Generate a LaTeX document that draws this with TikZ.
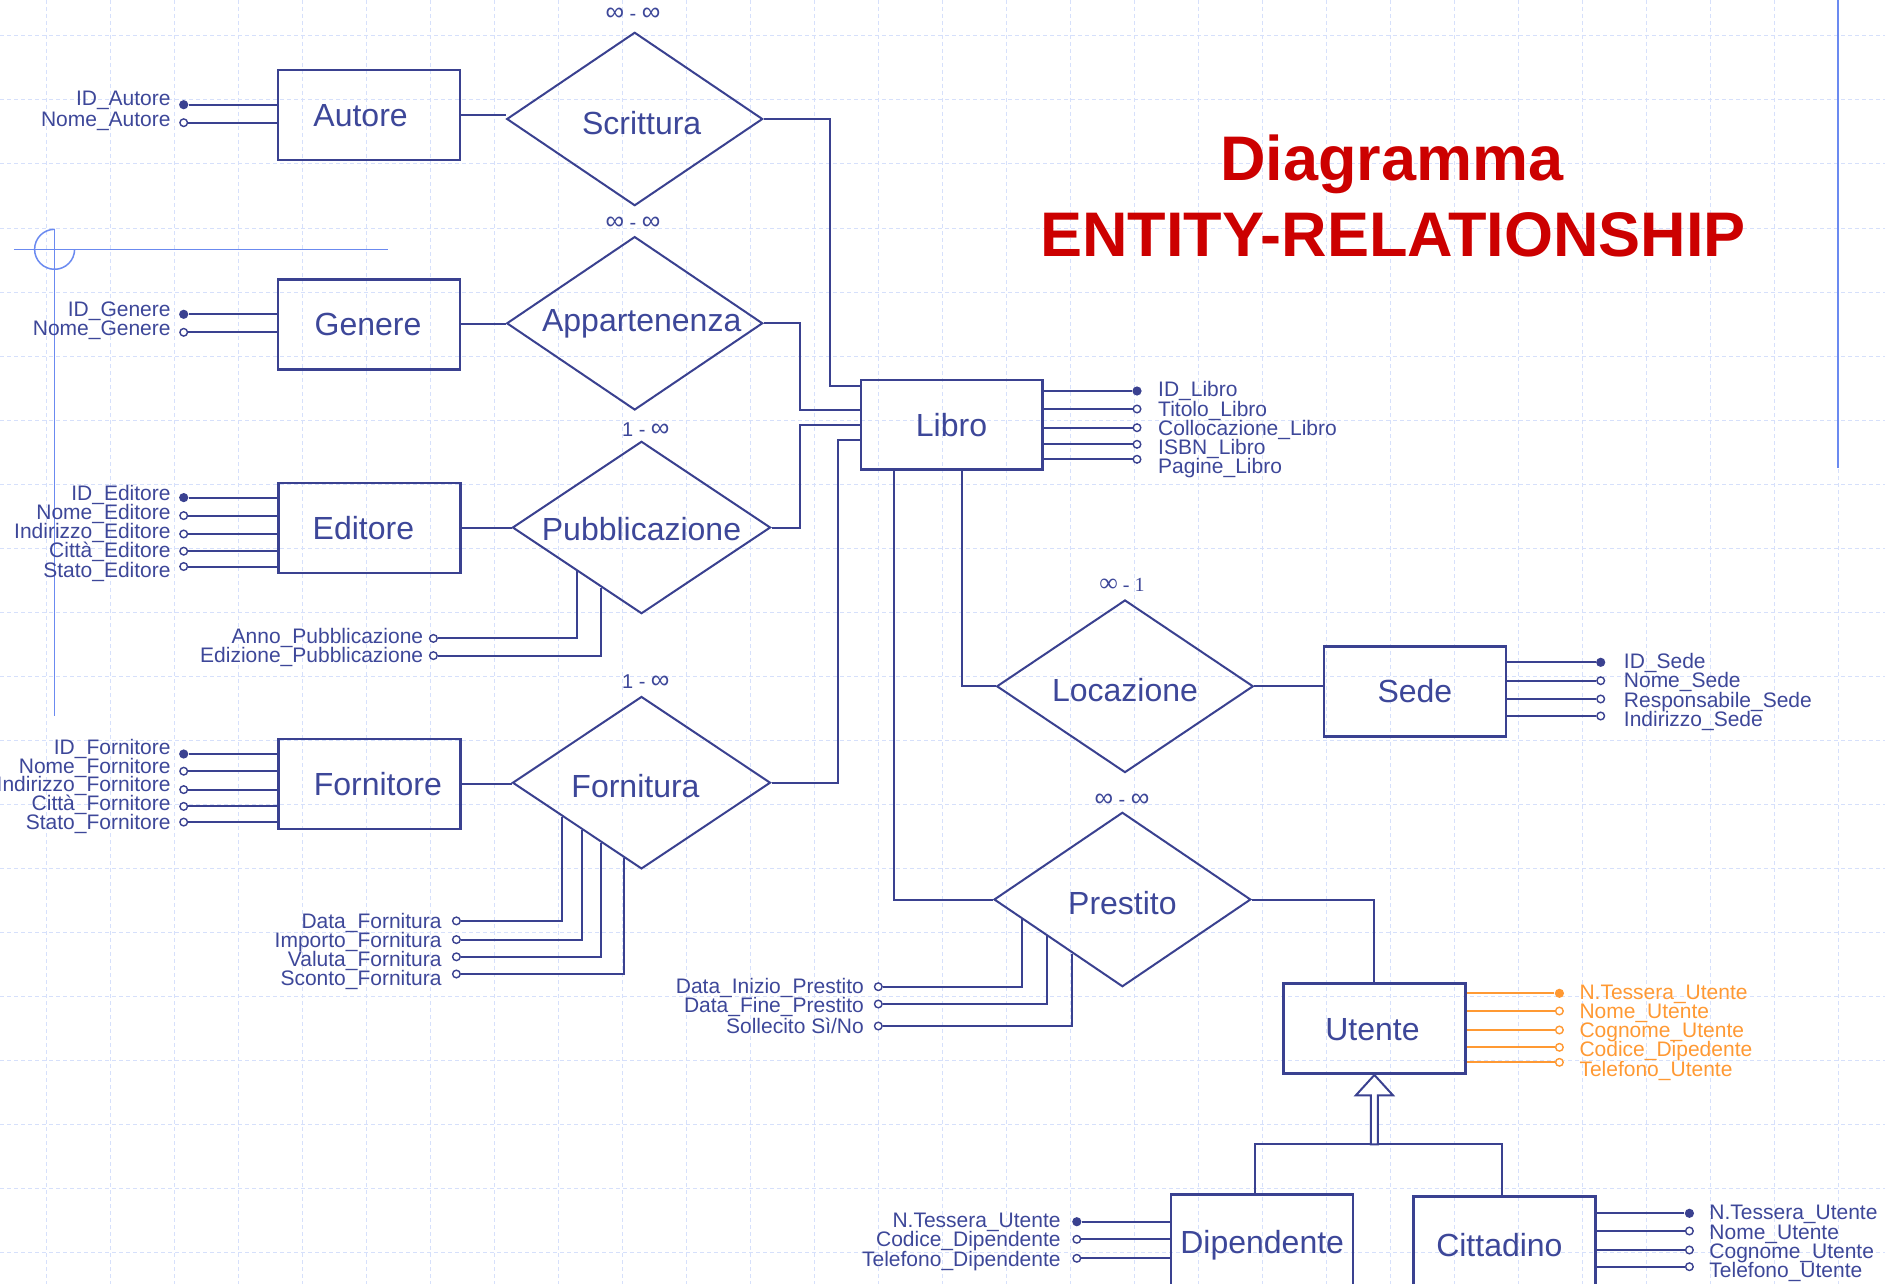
\documentclass[tikz,border=0pt]{standalone}
\usepackage{fontspec}
\setmainfont{Liberation Sans}
\newfontfamily\serifcard{Liberation Serif}
\usetikzlibrary{shapes.geometric,calc}
\definecolor{ernavy}{HTML}{3A4190}
\definecolor{ertext}{HTML}{3D4799}
\definecolor{erorange}{HTML}{FF9933}
\definecolor{erred}{HTML}{CC0000}
\definecolor{xblue}{HTML}{6B8AF0}
\definecolor{gridc}{HTML}{D6E0FB}
\newcommand{\infy}{{\fontsize{13pt}{10pt}\selectfont ∞}}
\begin{document}
\begin{tikzpicture}[x=0.5pt,y=-0.5pt,
  gridl/.style={draw=gridc, line width=0.5pt, dash pattern=on 2pt off 1.5pt},
  cross/.style={draw=xblue, line width=0.75pt},
  ent/.style={draw=ernavy, line width=1.25pt, minimum width=91pt, minimum height=45pt, inner sep=0pt, text=ertext, font=\fontsize{16pt}{16pt}\selectfont, text height=11.5pt, text depth=0pt},
  rel/.style={draw=ernavy, line width=1pt, diamond, shape aspect=1.5, inner sep=0pt, text=ertext, font=\fontsize{16pt}{16pt}\selectfont, text height=15pt, text depth=0pt},
  card/.style={text=ertext, font=\fontsize{10pt}{10pt}\selectfont, inner sep=0pt},
  attr/.style={text=ertext, font=\fontsize{10.5pt}{11pt}\selectfont, inner sep=0pt},
  oattr/.style={attr, text=erorange},
  kdot/.style={circle, fill=ernavy, minimum size=4.6pt, inner sep=0pt},
  odot/.style={circle, draw=ernavy, fill=white, line width=0.7pt, minimum size=3.8pt, inner sep=0pt},
  okdot/.style={kdot, fill=erorange},
  oodot/.style={odot, draw=erorange},
  conn/.style={draw=ernavy, line width=1pt},
  oconn/.style={draw=erorange, line width=1pt},
  ttl/.style={text=erred, font=\fontsize{31.5pt}{32pt}\selectfont\bfseries, inner sep=0pt}]

\useasboundingbox (0,0) rectangle (1885,1284);
\clip (0,0) rectangle (1885,1284);
\fill[white] (0,0) rectangle (1885,1284);

% grid
\foreach \i in {0,...,28} \draw[gridl] ({46+64*\i},0) -- ({46+64*\i},1284);
\foreach \j in {0,...,19} \draw[gridl] (0,{36+64*\j}) -- (1885,{36+64*\j});

% guide marks
\draw[cross] (13.8,249.3) -- (387.8,249.3);
\draw[cross] (54.6,229.3) -- (54.6,715.7);
\draw[cross] (54.6,229.3) arc[start angle=90, end angle=360, radius=10pt];
\draw[cross, line width=0.6pt] (1838,0) -- (1838,468);

% title
\node[ttl, anchor=base] (t1) at (1392,180) {Diagramma};
\node[ttl, anchor=base] (t2) at (1393,256) {ENTITY-RELATIONSHIP};

% entities
\node[ent] (autore) at (369,115) {Autore\hspace*{8.4pt}};
\node[ent] (genere) at (369,324.3) {Genere\hspace*{1pt}};
\node[ent] (editore) at (369.4,528.2) {Editore\hspace*{6pt}};
\node[ent] (fornitore) at (369.4,783.9) {\hspace*{8.4pt}Fornitore};
\node[ent, minimum width=90.75pt, minimum height=44.65pt] (libro) at (951.5,424.7) {Libro};
\node[ent] (sede) at (1414.9,691.3) {Sede};
\node[ent] (utente) at (1374.4,1028.7) {Utente\hspace*{2pt}};
\node[ent, minimum height=48pt] (dipendente) at (1262.2,1242.3) {Dipendente};
\node[ent, minimum height=48pt] (cittadino) at (1504.4,1244.7) {Cittadino\hspace*{5pt}};

% relationships
\node[rel, minimum width=128pt, minimum height=86.7pt] (scr) at (634.7,119) {\hspace*{7pt}Scrittura};
\node[rel, minimum width=128pt, minimum height=86.7pt, text height=8pt] (app) at (634.7,323.3) {\hspace*{7pt}Appartenenza};
\node[rel, minimum width=129pt, minimum height=86.2pt, text height=13pt] (pub) at (641.5,527.5) {Pubblicazione};
\node[rel, minimum width=129pt, minimum height=86.2pt] (forn) at (641.5,782.7) {Fornitura\hspace*{6pt}};
\node[rel, minimum width=128.3pt, minimum height=86.3pt] (loc) at (1125,686.3) {Locazione};
\node[rel, minimum width=128.4pt, minimum height=87.2pt] (pre) at (1122.4,899.5) {Prestito};

% cardinalities
\node[card] (cscr) at (633,14.7) {\infy{} - \infy};
\node[card] (capp) at (633,223.3) {\infy{} - \infy};
\node[card] (cpub) at (645.8,429.9) {1 - \infy};
\node[card] (cforn) at (645.8,682) {1 - \infy};
\node[card, font=\serifcard\fontsize{10pt}{10pt}\selectfont] (cloc) at (1122,584.5) {\infy{} - 1};
\node[card] (cpre) at (1122,800) {\infy{} - \infy};

% entity - relationship connectors
\draw[conn] (autore.east) -- (autore.east -| scr.west);
\draw[conn] (genere.east) -- (genere.east -| app.west);
\draw[conn] (editore.east) -- (editore.east -| pub.west);
\draw[conn] (fornitore.east) -- (fornitore.east -| forn.west);
\draw[conn] (scr.east) -| ($(libro.north west)+(-30,7.3)$) -- ($(libro.north west)+(0,7.3)$);
\draw[conn] (app.east) -| ($(libro.north west)+(-60,30.7)$) -- ($(libro.north west)+(0,30.7)$);
\draw[conn] (pub.east) -| ($(libro.north west)+(-60,46)$) -- ($(libro.north west)+(0,46)$);
\draw[conn] (forn.east) -| ($(libro.north west)+(-22,60.7)$) -- ($(libro.north west)+(0,60.7)$);
\draw[conn] ($(libro.south west)+(34.6,0)$) |- (pre.west);
\draw[conn] ($(libro.south west)+(102.6,0)$) |- (loc.west);
\draw[conn] (loc.east) -- (loc.east -| sede.west);
\draw[conn] (pre.east) -| (utente.north);

% generalisation
\coordinate (hub) at ($(utente.south)+(0,69.3)$);
\draw[conn] ($(dipendente.north)+(-7.5,0)$) |- (hub) -| ($(cittadino.north)+(-2.4,0)$);
\draw[conn, fill=white] (utente.south) -- ++(-18.5,20.3) -- ++(15,0) -- ++(0,49) -- ++(7,0) -- ++(0,-49) -- ++(15,0) -- cycle;

% attributes: left of entities
\foreach \nm/\st/\ly/\lb/\tx/\en in {
  aa1/kdot/104.7/106/ID\_Autore/autore, aa2/odot/122.7/126.3/Nome\_Autore/autore,
  ga1/kdot/314.3/316.3/ID\_Genere/genere, ga2/odot/332.3/335.5/Nome\_Genere/genere,
  ea1/kdot/497.6/500.3/ID\_Editore/editore, ea2/odot/515.6/519.3/Nome\_Editore/editore,
  ea3/odot/534/538.7/Indirizzo\_Editore/editore, ea4/odot/551.2/557.9/Città\_Editore/editore,
  ea5/odot/566.5/577.1/Stato\_Editore/editore,
  fa1/kdot/754/754/ID\_Fornitore/fornitore, fa2/odot/771.2/773.1/Nome\_Fornitore/fornitore,
  fa3/odot/789.6/791.1/Indirizzo\_Fornitore/fornitore, fa4/odot/806.4/810.3/Città\_Fornitore/fornitore,
  fa5/odot/822.1/829.6/Stato\_Fornitore/fornitore}{
  \node[\st] (\nm) at (183.7,\ly) {};
  \draw[conn] (\nm) -- (\nm -| \en.west);
  \node[attr, anchor=base east] (\nm-l) at (171,\lb) {\tx};
}

% attributes of Dipendente
\foreach \nm/\st/\ly/\lb/\tx in {
  da1/kdot/1221.7/1227/N.Tessera\_Utente, da2/odot/1239.3/1246.8/Codice\_Dipendente,
  da3/odot/1258.3/1266/Telefono\_Dipendente}{
  \node[\st] (\nm) at (1076.8,\ly) {};
  \draw[conn] (\nm) -- (\nm -| dipendente.west);
  \node[attr, anchor=base east] (\nm-l) at (1061,\lb) {\tx};
}

% attributes right of entities
\foreach \nm/\st/\ly/\lb/\tx in {
  la1/kdot/391/396.8/ID\_Libro, la2/odot/409/416/Titolo\_Libro,
  la3/odot/427.7/435.3/Collocazione\_Libro, la4/odot/444.3/454.5/ISBN\_Libro,
  la5/odot/459.3/473.8/Pagine\_Libro}{
  \node[\st] (\nm) at (1137,\ly) {};
  \draw[conn] (\nm) -- (\nm -| libro.east);
  \node[attr, anchor=base west] (\nm-l) at (1157.8,\lb) {\tx};
}
\foreach \nm/\st/\ly/\lb/\tx in {
  sa1/kdot/662.3/668.5/ID\_Sede, sa2/odot/680.7/687.7/Nome\_Sede,
  sa3/odot/699/707/Responsabile\_Sede, sa4/odot/716/726.3/Indirizzo\_Sede}{
  \node[\st] (\nm) at (1600.7,\ly) {};
  \draw[conn] (\nm) -- (\nm -| sede.east);
  \node[attr, anchor=base west] (\nm-l) at (1623.5,\lb) {\tx};
}
\foreach \nm/\st/\ly/\lb/\tx in {
  ua1/okdot/993.3/999.1/N.Tessera\_Utente, ua2/oodot/1011/1018.3/Nome\_Utente,
  ua3/oodot/1030/1037.6/Cognome\_Utente, ua4/oodot/1047.3/1056.8/Codice\_Dipedente,
  ua5/oodot/1062.3/1076.1/Telefono\_Utente}{
  \node[\st] (\nm) at (1559.4,\ly) {};
  \draw[oconn] (\nm) -- (\nm -| utente.east);
  \node[oattr, anchor=base west] (\nm-l) at (1579.1,\lb) {\tx};
}
\foreach \nm/\st/\ly/\lb/\tx in {
  ca1/kdot/1213.3/1219.5/N.Tessera\_Utente, ca2/odot/1231/1239/Nome\_Utente,
  ca3/odot/1250/1258.5/Cognome\_Utente, ca4/odot/1266.7/1277.5/Telefono\_Utente}{
  \node[\st] (\nm) at (1689.4,\ly) {};
  \draw[conn] (\nm) -- (\nm -| cittadino.east);
  \node[attr, anchor=base west] (\nm-l) at (1709,\lb) {\tx};
}

% attributes of relationships
\foreach \nm/\ly/\lb/\tx/\pp in {
  pa1/638.4/643.4/Anno\_Pubblicazione/0.5, pa2/655.6/662.5/Edizione\_Pubblicazione/0.69}{
  \node[odot] (\nm) at (433.4,\ly) {};
  \draw[conn] (\nm) -| ($(pub.west)!\pp!(pub.south)$);
  \node[attr, anchor=base east] (\nm-l) at (423.6,\lb) {\tx};
}
\foreach \nm/\ly/\lb/\tx/\pp in {
  fo1/920.9/928/Data\_Fornitura/0.388, fo2/939.6/947.3/Importo\_Fornitura/0.544,
  fo3/956.8/966/Valuta\_Fornitura/0.686, fo4/974/985.5/Sconto\_Fornitura/0.869}{
  \node[odot] (\nm) at (456.4,\ly) {};
  \draw[conn] (\nm) -| ($(forn.west)!\pp!(forn.south)$);
  \node[attr, anchor=base east] (\nm-l) at (442,\lb) {\tx};
}
\foreach \nm/\ly/\lb/\tx/\pp in {
  pr1/986.7/993/Data\_Inizio\_Prestito/0.221, pr2/1004/1012/Data\_Fine\_Prestito/0.417,
  pr3/1026/1033.7/{Sollecito Sì/No}/0.614}{
  \node[odot] (\nm) at (878.3,\ly) {};
  \draw[conn] (\nm) -| ($(pre.west)!\pp!(pre.south)$);
  \node[attr, anchor=base east] (\nm-l) at (864.2,\lb) {\tx};
}
\end{tikzpicture}
\end{document}
